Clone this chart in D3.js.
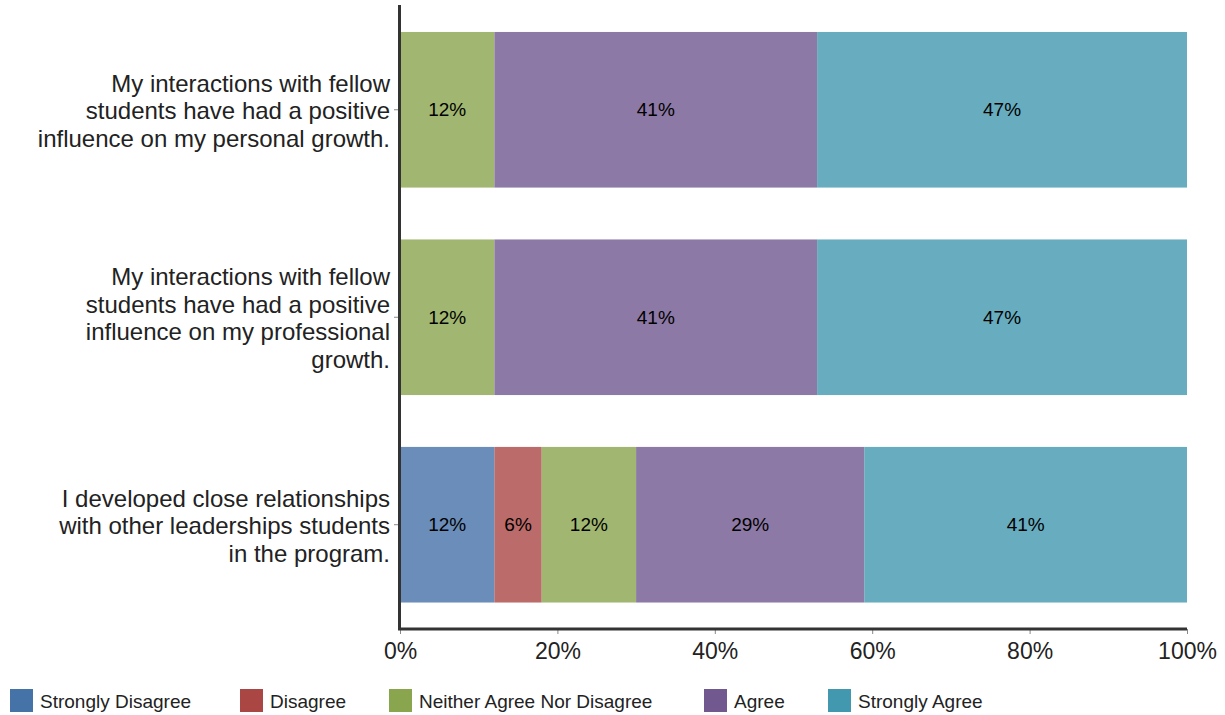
<!DOCTYPE html>
<html>
<head>
<meta charset="utf-8">
<script src="https://cdn.jsdelivr.net/npm/d3@7/dist/d3.min.js"></script>
<style>
  html, body { margin: 0; padding: 0; background: #fff; }
  svg { display: block; font-family: "Liberation Sans", Arial, sans-serif; }
</style>
</head>
<body>
<svg id="chart" width="1225" height="715"></svg>
<script>
// Survey statements (top to bottom), one line of text per array entry
const categories = [
  ["My interactions with fellow", "students have had a positive", "influence on my personal growth."],
  ["My interactions with fellow", "students have had a positive", "influence on my professional", "growth."],
  ["I developed close relationships", "with other leaderships students", "in the program."]
];
const seriesNames = ["Strongly Disagree", "Disagree", "Neither Agree Nor Disagree", "Agree", "Strongly Agree"];
const seriesColors = ["#4572A7", "#AA4643", "#89A54E", "#71588F", "#4198AF"];
// Percent of responses per statement, in series order
const stronglyDisagree = [0, 0, 12];
const disagree = [0, 0, 6];
const neither = [12, 12, 12];
const agree = [41, 41, 29];
const stronglyAgree = [47, 47, 41];
const tickValues = [0, 20, 40, 60, 80, 100];

const series = [stronglyDisagree, disagree, neither, agree, stronglyAgree];

const svg = d3.select("#chart");
const plot = { left: 400, right: 1187, top: 5, bottom: 630 };

const x = d3.scaleLinear().domain([0, 100]).range([plot.left, plot.right]);
const y = d3.scaleBand()
  .domain(d3.range(categories.length))
  .range([plot.top, plot.bottom - 0.5])
  .paddingInner(0.25)
  .paddingOuter(0.13);

// Stacked bars
const rows = categories.map((c, i) => {
  const r = { idx: i };
  seriesNames.forEach((s, k) => r[s] = series[k][i]);
  return r;
});
const stacked = d3.stack().keys(seriesNames)(rows);

const layers = svg.append("g").selectAll("g")
  .data(stacked)
  .join("g")
  .attr("fill", (d, k) => seriesColors[k])
  .attr("fill-opacity", 0.8);

layers.selectAll("rect")
  .data(d => d.filter(p => p[1] - p[0] > 0))
  .join("rect")
  .attr("x", p => x(p[0]))
  .attr("y", p => y(p.data.idx))
  .attr("width", p => x(p[1]) - x(p[0]))
  .attr("height", y.bandwidth());

// Value labels inside segments
const labels = svg.append("g");
stacked.forEach(layer => {
  layer.filter(p => p[1] - p[0] > 0).forEach(p => {
    labels.append("text")
      .attr("x", (x(p[0]) + x(p[1])) / 2)
      .attr("y", y(p.data.idx) + y.bandwidth() / 2)
      .attr("dy", "0.35em")
      .attr("text-anchor", "middle")
      .attr("font-size", 19)
      .attr("fill", "#000")
      .text((p[1] - p[0]) + "%");
  });
});

// X axis
const xAxis = svg.append("g")
  .attr("transform", `translate(0,${plot.bottom - 1})`)
  .call(d3.axisBottom(x).tickValues(tickValues).tickFormat(d => d + "%").tickSize(5).tickSizeOuter(0));
xAxis.select(".domain").remove();
xAxis.selectAll(".tick line").attr("stroke", "#888").attr("stroke-width", 1);
xAxis.selectAll(".tick text").attr("font-size", 23).attr("fill", "#222").attr("dy", "0.95em")
  .attr("font-family", "'Liberation Sans', Arial, sans-serif");
svg.append("line")
  .attr("x1", plot.left - 2).attr("x2", plot.right)
  .attr("y1", plot.bottom - 1).attr("y2", plot.bottom - 1)
  .attr("stroke", "#333").attr("stroke-width", 3);

// Y axis with wrapped category labels
svg.append("line")
  .attr("x1", plot.left - 0.5).attr("x2", plot.left - 0.5)
  .attr("y1", plot.top).attr("y2", plot.bottom)
  .attr("stroke", "#333").attr("stroke-width", 3);

const lineH = 27.5;
categories.forEach((lines, i) => {
  const cy = y(i) + y.bandwidth() / 2;
  svg.append("line")
    .attr("x1", plot.left - 6).attr("x2", plot.left - 2)
    .attr("y1", cy).attr("y2", cy)
    .attr("stroke", "#888").attr("stroke-width", 1);
  const t = svg.append("text")
    .attr("text-anchor", "end")
    .attr("font-size", 24)
    .attr("fill", "#222");
  const y0 = cy + 1 - (lines.length - 1) * lineH / 2;
  lines.forEach((ln, j) => {
    t.append("tspan")
      .attr("x", plot.left - 10)
      .attr("y", y0 + j * lineH)
      .attr("dy", "0.35em")
      .text(ln);
  });
});

// Legend
const legendX = [10, 240, 389, 704, 828];
const legend = svg.append("g");
seriesNames.forEach((s, k) => {
  const g = legend.append("g").attr("transform", `translate(${legendX[k]},689)`);
  g.append("rect").attr("width", 23).attr("height", 23).attr("fill", seriesColors[k]);
  g.append("text")
    .attr("x", 30).attr("y", 12).attr("dy", "0.35em")
    .attr("font-size", 19).attr("fill", "#222")
    .text(s);
});
</script>
</body>
</html>
